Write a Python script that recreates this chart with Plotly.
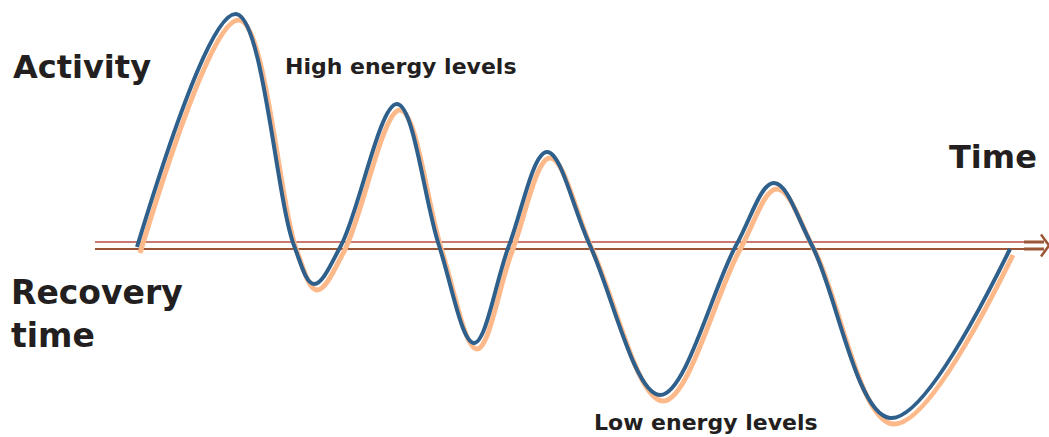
import plotly.graph_objects as go

# Time (horizontal position) and activity level (above 0 = activity, below 0 = recovery):
# start, peaks, troughs and axis crossings
time = [137, 236, 294, 314, 341, 397, 439, 474, 509, 547, 590, 660, 736, 774, 812,
        890, 1010]
level = [-1.5, 231.5, 0, -38.5, 0, 141.5, 0, -97.5, 0, 93.5, 0, -149.5, 0, 62.5, 0,
         -172.5, -3.5]

labels = {
    "activity": "Activity",
    "high": "High energy levels",
    "time": "Time",
    "recovery": "Recovery<br>time",
    "low": "Low energy levels",
}

W, H = 1049, 437
X_RANGE = [0, W]
Y_RANGE = [-191.5, 245.5]
SHADOW_DX, SHADOW_DY = 3, 6
SMOOTH = 1.05

BLUE = "#2f5f8b"
ORANGE = "#fdb98a"
TEXT = "#231f20"
AX_TOP = "#c97a70"
AX_BOT = "#9a5636"

fig = go.Figure()

# orange shadow curve (base axes, ranges offset so it sits lower-right)
fig.add_trace(go.Scatter(x=time, y=level, mode="lines",
                         line=dict(color=ORANGE, width=5, shape="spline", smoothing=SMOOTH),
                         xaxis="x", yaxis="y", hoverinfo="skip", showlegend=False))
# main blue curve (overlay axes, drawn on top)
fig.add_trace(go.Scatter(x=time, y=level, mode="lines",
                         line=dict(color=BLUE, width=4, shape="spline", smoothing=SMOOTH),
                         xaxis="x2", yaxis="y2", hoverinfo="skip", showlegend=False))

shapes = [
    dict(type="line", xref="x2", yref="y2", x0=95, x1=1024, y0=3.5, y1=3.5,
         line=dict(color=AX_TOP, width=2), layer="below"),
    dict(type="line", xref="x2", yref="y2", x0=95, x1=1024, y0=-3.5, y1=-3.5,
         line=dict(color=AX_BOT, width=2), layer="below"),
    dict(type="line", xref="x2", yref="y2", x0=1024, x1=1044, y0=3.5, y1=3.5,
         line=dict(color=AX_BOT, width=3), layer="below"),
    dict(type="line", xref="x2", yref="y2", x0=1024, x1=1044, y0=-3.5, y1=-3.5,
         line=dict(color=AX_BOT, width=3), layer="below"),
    dict(type="path", xref="x2", yref="y2", path="M 1041 11 L 1049 0 L 1041 -11",
         line=dict(color=AX_BOT, width=2.5), layer="below"),
]

font = dict(family="DejaVu Sans", color=TEXT)
ann = []
def add(text, x, y, size, xanchor="center", align="center"):
    ann.append(dict(text="<b>%s</b>" % text, x=x, y=y, xref="x2", yref="y2",
                    xanchor=xanchor, yanchor="middle", showarrow=False, align=align,
                    font=dict(size=size, **font)))

add(labels["activity"], 82, 245.5 - 67, 32)
add(labels["high"], 400, 245.5 - 66, 22)
add(labels["time"], 993, 245.5 - 157, 32)
add(labels["recovery"], 9, 245.5 - 314, 33, xanchor="left", align="left")
add(labels["low"], 706, 245.5 - 422, 22)

axis_off = dict(visible=False, showgrid=False, zeroline=False, fixedrange=True)
fig.update_layout(
    width=W, height=H,
    margin=dict(l=0, r=0, t=0, b=0),
    paper_bgcolor="white", plot_bgcolor="white",
    xaxis=dict(range=[X_RANGE[0] - SHADOW_DX, X_RANGE[1] - SHADOW_DX], **axis_off),
    yaxis=dict(range=[Y_RANGE[0] + SHADOW_DY, Y_RANGE[1] + SHADOW_DY], **axis_off),
    xaxis2=dict(range=X_RANGE, overlaying="x", **axis_off),
    yaxis2=dict(range=Y_RANGE, overlaying="y", **axis_off),
    shapes=shapes, annotations=ann, showlegend=False,
)

fig.write_html("out.html", config={"displayModeBar": False},
               post_script="document.body.style.margin='0';document.body.style.padding='0';")
